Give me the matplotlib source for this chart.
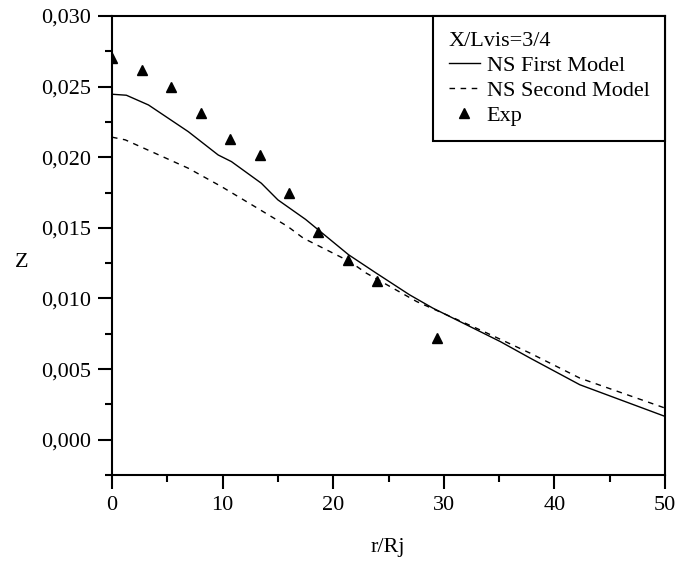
import matplotlib
matplotlib.use("Agg")
import matplotlib.pyplot as plt
from matplotlib.ticker import MultipleLocator, FuncFormatter


# Data
x_first = [0, 1.3, 3.3, 6.9, 9.6, 10.8, 13.5, 15.0, 17.5, 21.4, 23.9, 26.9, 29.0, 35.1, 37.8, 42.3, 50]
z_first = [0.02446, 0.02439, 0.02370, 0.02181, 0.02016, 0.01969, 0.01816, 0.01698, 0.01560,
           0.01309, 0.01179, 0.01026, 0.00932, 0.00695, 0.00578, 0.00389, 0.00165]

x_second = [0, 1.2, 3.9, 6.9, 9.9, 12.9, 15.9, 17.3, 21.5, 23.0, 27.55, 30.6, 33.6, 37.8, 42.3, 50]
z_second = [0.02142, 0.02123, 0.02028, 0.01922, 0.01792, 0.01651, 0.01509, 0.01427,
            0.01261, 0.01179, 0.00978, 0.00872, 0.00766, 0.00613, 0.00436, 0.00224]

x_exp = [0, 2.68, 5.33, 8.02, 10.67, 13.35, 16.0, 18.65, 21.3, 24.0, 29.36]
z_exp = [0.0270, 0.0262, 0.02495, 0.02316, 0.02127, 0.02016, 0.01745, 0.01473, 0.01273, 0.01127, 0.0072]


plt.rcParams["font.family"] = ["Liberation Serif", "DejaVu Serif"]

fig = plt.figure(figsize=(6.78, 5.61), dpi=100)
ax = fig.add_axes([112 / 678, 1 - 475 / 561, 553 / 678, 459 / 561])

ax.plot(x_first, z_first, color="black", lw=1.0, label="NS First Model")
ax.plot(x_second, z_second, color="black", lw=1.0, linestyle=(0, (4, 4)), label="NS Second Model")
ax.plot(x_exp, z_exp, linestyle="none", marker="^", color="black", ms=6.5, label="Exp")

ax.set_xlim(0, 50)
ax.set_ylim(-0.0025, 0.030)

ax.xaxis.set_major_locator(MultipleLocator(10))
ax.xaxis.set_minor_locator(MultipleLocator(5))
ax.yaxis.set_major_locator(MultipleLocator(0.005))
ax.yaxis.set_minor_locator(MultipleLocator(0.0025))
ax.yaxis.set_major_formatter(FuncFormatter(lambda v, p: "{:.3f}".format(v).replace(".", ",")))

ax.tick_params(which="major", direction="out", length=10, width=1.5, labelsize=16, pad=5)
ax.tick_params(which="minor", direction="out", length=5, width=1.5)
ax.tick_params(top=False, right=False)

for side in ax.spines:
    ax.spines[side].set_linewidth(1.5)

ax.set_xlabel("r/Rj", fontsize=16, va="center", ha="center")
ax.set_ylabel("Z", fontsize=16, rotation=0, va="center", ha="center")
ax.xaxis.set_label_coords(0.499, -0.157)
ax.yaxis.set_label_coords(-0.163, 0.464)

leg = ax.legend(loc="upper right", bbox_to_anchor=(1.0, 1.0), borderaxespad=0,
                title="X/Lvis=3/4", title_fontsize=16, fontsize=16, alignment="left",
                fancybox=False, framealpha=1, edgecolor="black",
                handlelength=1.4, handletextpad=0.3, labelspacing=0.2, borderpad=0.7)
leg.get_frame().set_linewidth(1.5)

fig.savefig("out.png", dpi=100)
